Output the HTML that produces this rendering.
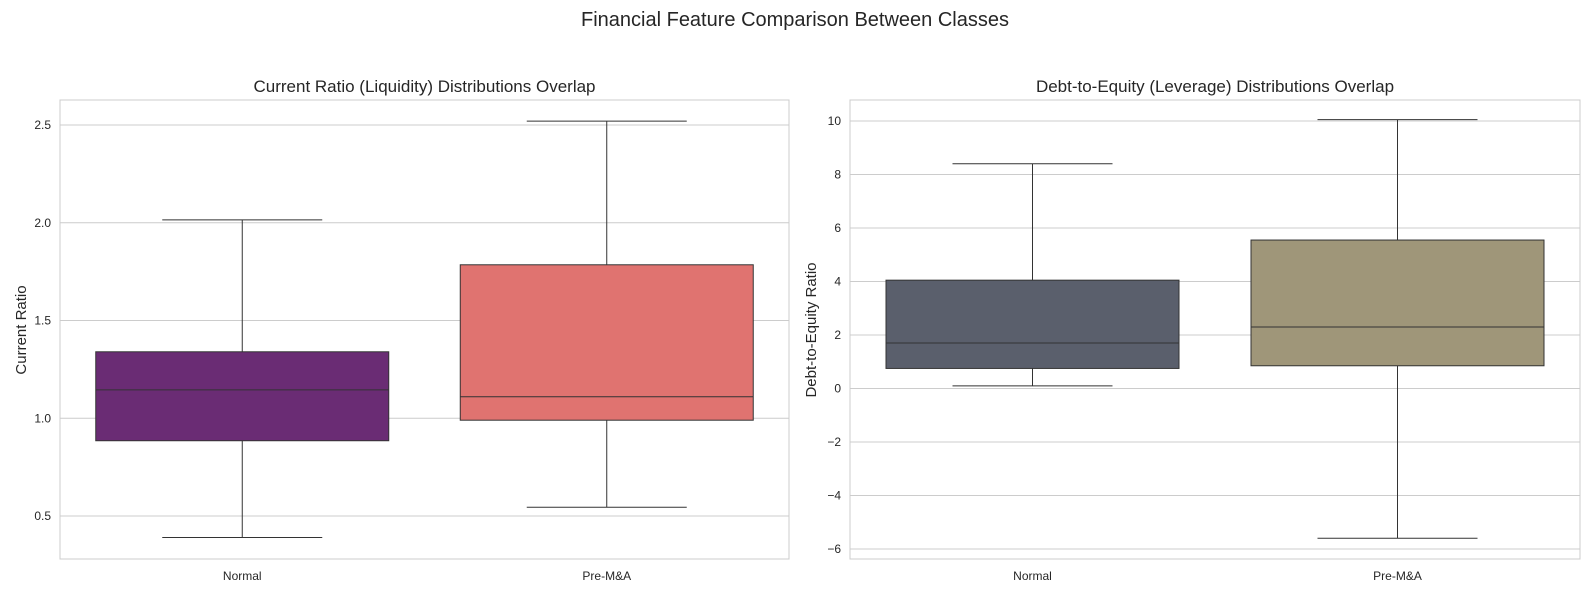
<!DOCTYPE html>
<html><head><meta charset="utf-8"><style>
html,body{margin:0;padding:0;background:#fff;overflow:hidden;font-family:"Liberation Sans",Arial,sans-serif}
svg{display:block}
svg text{font-family:"Liberation Sans",Arial,sans-serif;fill:#262626}
</style></head><body>
<svg id="c" width="1590" height="593" xmlns="http://www.w3.org/2000/svg">
<text x="795" y="26" font-size="20" text-anchor="middle">Financial Feature Comparison Between Classes</text>
</svg>
<script>
const categories=["Normal","Pre-M&A"];
const leftTicks=[0.5,1.0,1.5,2.0,2.5];
const leftStats=[[0.39,0.885,1.145,1.34,2.015],[0.545,0.99,1.11,1.785,2.52]];
const rightTicks=[-6,-4,-2,0,2,4,6,8,10];
const rightStats=[[0.1,0.75,1.7,4.05,8.4],[-5.6,0.85,2.3,5.55,10.05]];
const NS="http://www.w3.org/2000/svg";
const svg=document.getElementById('c');
function mk(t,a,p){const e=document.createElementNS(NS,t);for(const k in a)e.setAttribute(k,a[k]);(p||svg).appendChild(e);return e;}
function panel(cfg){
 const g=mk('g',{});
 
 
 const y=v=>cfg.y0-(v-cfg.v0)*cfg.k;
 cfg.ticks.forEach((t,i)=>{
  const l=mk('line',{x1:cfg.x0,x2:cfg.x1,y1:y(t),y2:y(t),stroke:'#cccccc','stroke-width':1},g);
  
  
  const tx=mk('text',{x:cfg.x0-9,y:y(t)+4,'font-size':12,'text-anchor':'end'},g);
  tx.textContent=cfg.fmt(t);
  
  
 });
 const fr=mk('rect',{x:cfg.x0,y:100,width:cfg.x1-cfg.x0,height:459,fill:'none',stroke:'#cccccc'},g);
 
 
 const band=(cfg.x1-cfg.x0)/2;
 categories.forEach((c,i)=>{
  const cx=cfg.x0+band*(i+0.5);
  const s=cfg.stats[i];const bw=293;const cw=160;
  const bg=mk('g',{},g);
  
  
  mk('line',{x1:cx,x2:cx,y1:y(s[0]),y2:y(s[1]),stroke:'#333','stroke-width':1},bg);
  mk('line',{x1:cx,x2:cx,y1:y(s[3]),y2:y(s[4]),stroke:'#333','stroke-width':1},bg);
  mk('line',{x1:cx-cw/2,x2:cx+cw/2,y1:y(s[0]),y2:y(s[0]),stroke:'#333'},bg);
  mk('line',{x1:cx-cw/2,x2:cx+cw/2,y1:y(s[4]),y2:y(s[4]),stroke:'#333'},bg);
  mk('rect',{x:cx-bw/2,y:y(s[3]),width:bw,height:y(s[1])-y(s[3]),fill:cfg.colors[i],stroke:'#333'},bg);
  mk('line',{x1:cx-bw/2,x2:cx+bw/2,y1:y(s[2]),y2:y(s[2]),stroke:'#333'},bg);
  const t=mk('text',{x:cx,y:580,'font-size':12,'text-anchor':'middle'},g);
  t.textContent=c;
  
  
 });
 const tt=mk('text',{x:(cfg.x0+cfg.x1)/2,y:92,'font-size':17,'text-anchor':'middle'},g);
 tt.textContent=cfg.title;
 
 
 const yl=mk('text',{x:0,y:0,'font-size':15,'text-anchor':'middle',transform:`translate(${cfg.x0-34},330) rotate(-90)`},g);
 yl.textContent=cfg.ylabel;
 
 
}
panel({name:'current-ratio-panel',x0:60,x1:789,y0:516,v0:0.5,k:195.5,ticks:leftTicks,stats:leftStats,fmt:t=>t.toFixed(1),colors:['#6a2c74','#e07370'],title:'Current Ratio (Liquidity) Distributions Overlap',ylabel:'Current Ratio'});
panel({name:'debt-equity-panel',x0:850,x1:1580,y0:549,v0:-6,k:26.75,ticks:rightTicks,stats:rightStats,fmt:t=>t<0?'\u2212'+(-t):String(t),colors:['#5a5f6c','#9f9679'],title:'Debt-to-Equity (Leverage) Distributions Overlap',ylabel:'Debt-to-Equity Ratio'});
</script>
</body></html>
